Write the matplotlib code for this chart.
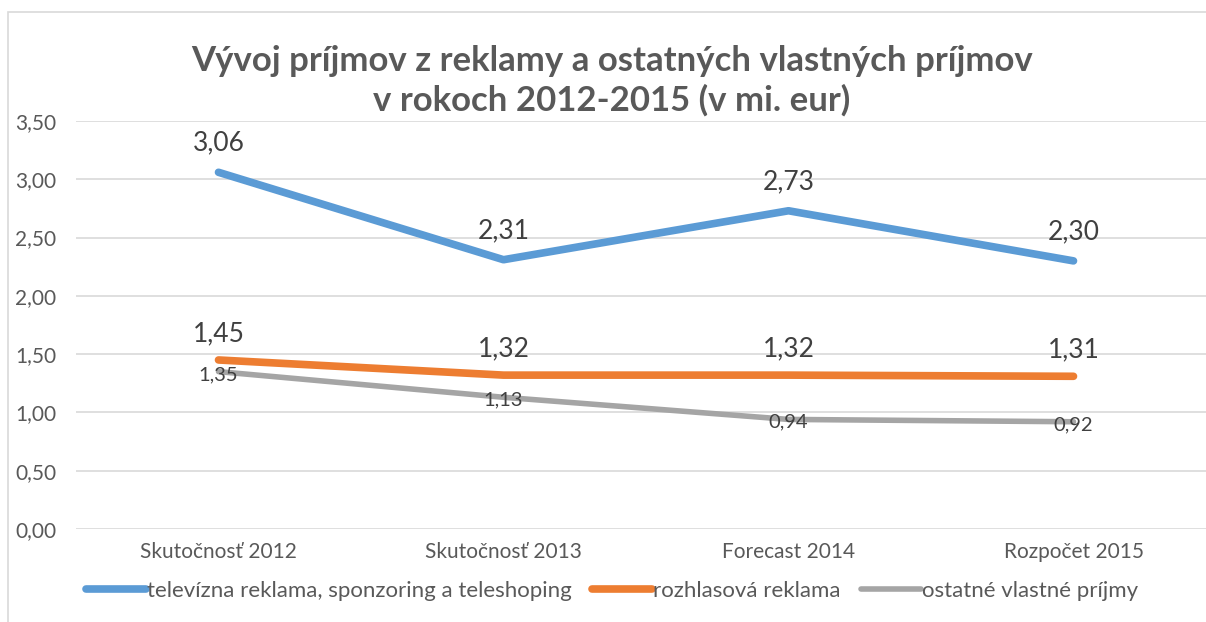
import matplotlib
matplotlib.use("Agg")
import matplotlib.pyplot as plt
from matplotlib.patches import Rectangle

categories = ["Skutočnosť 2012", "Skutočnosť 2013", "Forecast 2014", "Rozpočet 2015"]
tv = [3.06, 2.31, 2.73, 2.30]
radio = [1.45, 1.32, 1.32, 1.31]
other = [1.35, 1.13, 0.94, 0.92]
series_names = ["televízna reklama, sponzoring a teleshoping", "rozhlasová reklama", "ostatné vlastné príjmy"]
yticks = [0.0, 0.5, 1.0, 1.5, 2.0, 2.5, 3.0, 3.5]
title = "Vývoj príjmov z reklamy a ostatných vlastných príjmov\nv rokoch 2012-2015 (v mi. eur)"

plt.rcParams['font.family'] = ['Lato', 'DejaVu Sans']
TXT = "#595959"
W, H = 1206, 622
fig = plt.figure(figsize=(W/100, H/100), dpi=100)

# outer chart border
fig.patches.append(Rectangle((8/W, -0.05), 1.2, 1.05 - 12/H, transform=fig.transFigure,
                             fill=False, edgecolor="#D9D9D9", linewidth=1.2))

ax = fig.add_axes([76/W, 1-529/H, 1140/W, (529-121)/H])
x = list(range(len(categories)))
ax.set_xlim(-0.5, len(categories)-0.5)
ax.set_ylim(0, 3.5)
ax.set_yticks(yticks)
ax.set_yticklabels([f"{v:.2f}".replace(".", ",") for v in yticks])
ax.set_xticks(x)
ax.set_xticklabels(categories)
ax.grid(axis="y", color="#D9D9D9", linewidth=1.2)
ax.set_axisbelow(True)
for s in ax.spines.values():
    s.set_visible(False)
ax.tick_params(length=0, labelsize=15, labelcolor=TXT)
ax.tick_params(axis="y", pad=14)
ax.tick_params(axis="x", pad=9)

l1, = ax.plot(x, tv, color="#5B9BD5", linewidth=5.5, solid_capstyle="round", solid_joinstyle="round", label=series_names[0])
l2, = ax.plot(x, radio, color="#ED7D31", linewidth=5.5, solid_capstyle="round", solid_joinstyle="round", label=series_names[1])
l3, = ax.plot(x, other, color="#A5A5A5", linewidth=4, solid_capstyle="round", solid_joinstyle="round", label=series_names[2])

def fmt(v):
    return f"{v:.2f}".replace(".", ",")

for xi, v in zip(x, tv):
    ax.annotate(fmt(v), (xi, v), xytext=(0, 21), textcoords="offset points",
                ha="center", va="center", fontsize=19, color="#404040")
for xi, v in zip(x, radio):
    ax.annotate(fmt(v), (xi, v), xytext=(0, 19), textcoords="offset points",
                ha="center", va="center", fontsize=19, color="#404040")
for xi, v in zip(x, other):
    ax.annotate(fmt(v), (xi, v), xytext=(0, -2), textcoords="offset points",
                ha="center", va="center", fontsize=14.5, color="#404040")

fig.text(612/W, 1-81/H, title, ha="center", va="center", fontsize=25, fontweight="bold",
         color=TXT, linespacing=1.25)

leg = fig.legend(handles=[l1, l2, l3], loc="center", bbox_to_anchor=(612/W, 1-591/H),
                 ncol=3, frameon=False, fontsize=16, handlelength=2.7, handletextpad=0.05,
                 columnspacing=0.9, labelcolor=TXT)

fig.savefig("out.png", dpi=100)
